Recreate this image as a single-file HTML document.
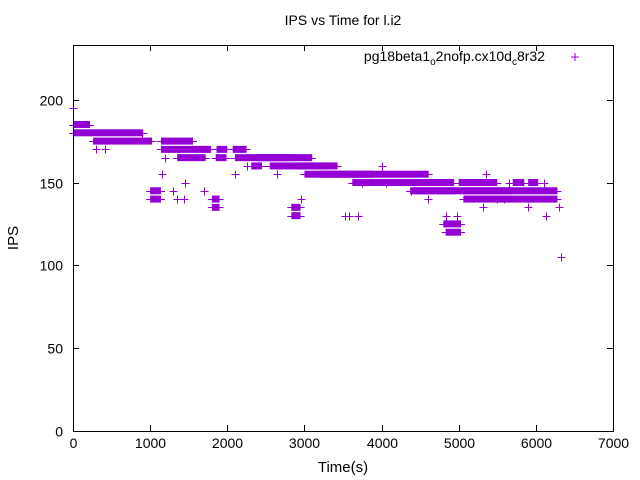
<!DOCTYPE html>
<html><head><meta charset="utf-8"><style>
body{margin:0;background:#fff}
svg{display:block;font-family:"Liberation Sans",sans-serif}
</style></head><body>
<svg id="chart" width="640" height="480" viewBox="0 0 640 480">
<rect x="0" y="0" width="640" height="480" fill="#fff"/>
<text x="343" y="25" font-size="14" text-anchor="middle">IPS vs Time for l.i2</text>
<text x="343" y="472" font-size="15" text-anchor="middle">Time(s)</text>
<text x="18" y="238" font-size="15" text-anchor="middle" transform="rotate(-90 18 238)">IPS</text>
<g id="axes"></g>
<g id="marks"></g>
<g>
<text x="545" y="61" font-size="14" text-anchor="end">pg18beta1<tspan font-size="10" dy="4">o</tspan><tspan dy="-4">2nofp.cx10d</tspan><tspan font-size="10" dy="4">c</tspan><tspan dy="-4">8r32</tspan></text>
<path d="M571 57h8M575 53v8" stroke="#9400d3" stroke-width="1"/>
</g>
<rect x="73.5" y="45.5" width="540" height="386" fill="none" stroke="#000" stroke-width="1"/>
</svg>
<script>
const xTicks=[0,1000,2000,3000,4000,5000,6000,7000];
const yTicks=[0,50,100,150,200];
// runs of dense samples: start time, end time, IPS
const runStart=[0,0,260,1140,1140,1700,1860,2070,1850,2100,2370,2400,2550,1350,2310,2550,2850,3000,3210,3620,4350,4370,4420,5000,5700,5900,5050,5060,4800,4830,1000,1000,1800,1800,2830,2830];
const runEnd=[220,910,1025,1555,1720,1790,2000,2250,1990,2880,2460,2800,3100,1720,2450,3430,3300,3900,4610,4940,4940,4950,5700,5500,5850,6030,6280,6280,5030,5030,1140,1140,1900,1900,2950,2950];
const runIPS=[185,180,175,175,170,170,170,170,165,165,165,165,165,165,160,160,160,155,155,150,150,145,145,150,150,150,145,140,125,120,145,140,140,135,135,130];
// isolated samples: time, IPS
const ptT=[0,900,1150,1450,1300,1440,2100,3580,3700,4000,4380,4600,5350,5650,6100,6320,6130,5320,5500,4060,3740,2250,300,420,1190,1700,2650,2950,3530,4830,4980,5590,5900,6300,1350];
const ptV=[195,180,155,150,145,140,155,130,130,160,145,140,155,150,150,105,130,135,140,150,150,160,170,170,165,145,155,140,130,130,130,140,135,135,140];
const NS="http://www.w3.org/2000/svg";
const X=t=>73+t/7000*540, Y=v=>431-v/233*386;
const axes=document.getElementById('axes'), marks=document.getElementById('marks');
function mk(tag,attrs,parent){const e=document.createElementNS(NS,tag);for(const k in attrs)e.setAttribute(k,attrs[k]);parent.appendChild(e);return e;}
xTicks.forEach(t=>{
  const x=Math.round(X(t))+0.5;
  const g=mk('path',{d:`M${x} 431V425M${x} 45V51`,stroke:'#000'},axes);
  
  
  const l=mk('text',{x:x,y:448,'font-size':14,'text-anchor':'middle'},axes);l.textContent=t;
  
  
});
yTicks.forEach(v=>{
  const y=Math.round(Y(v))+0.5;
  const g=mk('path',{d:`M73 ${y}H79M613 ${y}H607`,stroke:'#000'},axes);
  
  
  const l=mk('text',{x:63,y:y+5,'font-size':14,'text-anchor':'end'},axes);l.textContent=v;
  
  
});
const C='#9400d3';
runStart.forEach((s,i)=>{
  const x1=X(s),x2=X(runEnd[i]),y=Y(runIPS[i]);
  const r=mk('rect',{x:x1,y:y-3.5,width:Math.max(1,x2-x1),height:7,fill:C},marks);
  
  
  const h=mk('path',{d:`M${x1-4} ${Math.round(y)+0.5}H${x2+4}`,stroke:C},marks);
  
  
});
ptT.forEach((t,i)=>{
  const x=Math.round(X(t))+0.5,y=Math.round(Y(ptV[i]))+0.5;
  const p=mk('path',{d:`M${x-4} ${y}h8M${x} ${y-4}v8`,stroke:C},marks);
  
  
});
</script>
</body></html>
